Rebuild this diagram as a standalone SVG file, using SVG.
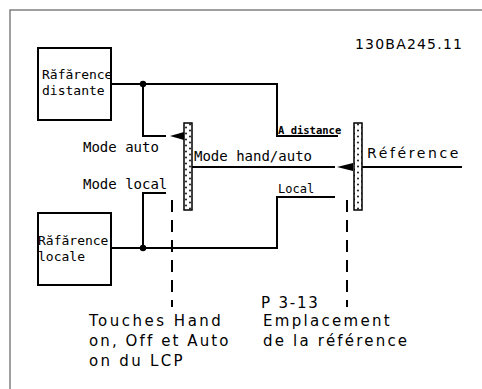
<svg xmlns="http://www.w3.org/2000/svg" width="482" height="389" viewBox="0 0 482 389">
<style>
.ln{fill:none;stroke:#000;stroke-width:2}
.box{fill:#fff;stroke:#000;stroke-width:2}
.dash{fill:none;stroke:#000;stroke-width:2;stroke-dasharray:12 8}
.mono{font-family:"DejaVu Sans Mono","Liberation Mono",monospace;fill:#000}
.sans{font-family:"DejaVu Sans","Noto Sans",sans-serif;fill:#000}
.bar{fill:url(#stip);stroke:#000;stroke-width:1.5}
</style>
<defs>
<pattern id="stip" width="8" height="6" patternUnits="userSpaceOnUse">
<rect width="8" height="6" fill="#fff"/>
<circle cx="2" cy="1.5" r="0.9" fill="#000"/>
<circle cx="6" cy="4.5" r="0.9" fill="#000"/>
</pattern>
</defs>
<rect width="482" height="389" fill="#fff"/>
<path d="M10,389 V10 H482" fill="none" stroke="#808080" stroke-width="1.5"/>
<text class="sans" x="355" y="49" font-size="14" letter-spacing="1.2">130BA245.11</text>
<g id="connectors">
<path class="ln" d="M111,84 H277 V136 H338"/>
<path class="ln" d="M143,84 V136 H166"/>
<path class="ln" d="M192,167 H335"/>
<path class="ln" d="M362,167 H462"/>
<path class="ln" d="M111,248 H277 V197 H335"/>
<path class="ln" d="M143,248 V193 H166"/>
<circle cx="143" cy="84" r="3.2" fill="#000"/>
<circle cx="143" cy="248" r="3.2" fill="#000"/>
<polygon points="170,136 184,132 184,140" fill="#000"/>
<polygon points="337,167 353,163 353,171" fill="#000"/>
<path class="dash" d="M172,200 V307"/>
<path class="dash" d="M347,200 V307"/>
</g>
<g id="ref-distante">
<rect class="box" x="38" y="48" width="73" height="72"/>
<text class="mono" x="42" y="79" font-size="13">Răfărence</text>
<text class="mono" x="42" y="95" font-size="13">distante</text>
</g>
<g id="ref-locale">
<rect class="box" x="38" y="213" width="73" height="72"/>
<text class="mono" x="38" y="245" font-size="13">Răfărence</text>
<text class="mono" x="38" y="261" font-size="13">locale</text>
</g>
<g id="switch-lcp">
<rect class="bar" x="184" y="123" width="8" height="87"/>
</g>
<g id="switch-ref">
<rect class="bar" x="354" y="123" width="8" height="87"/>
</g>
<g id="labels">
<text class="mono" x="83" y="152" font-size="14">Mode auto</text>
<text class="mono" x="83" y="189" font-size="14">Mode local</text>
<text class="mono" x="194" y="161" font-size="14">Mode hand/auto</text>
<text class="mono" x="278" y="134" font-size="10.5" font-weight="bold">A distance</text>
<text class="mono" x="278" y="193" font-size="12">Local</text>
<text class="sans" x="367" y="158" font-size="14" letter-spacing="2.6">Référence</text>
<text class="sans" x="89" y="326" font-size="15" letter-spacing="2.5">Touches Hand</text>
<text class="sans" x="89" y="346" font-size="15" letter-spacing="2.1">on, Off et Auto</text>
<text class="sans" x="89" y="366" font-size="15" letter-spacing="2.3">on du LCP</text>
<text class="sans" x="261" y="308" font-size="15" letter-spacing="1.8">P 3-13</text>
<text class="sans" x="263" y="326" font-size="15" letter-spacing="2.3">Emplacement</text>
<text class="sans" x="263" y="346" font-size="15" letter-spacing="2.2">de la référence</text>
</g>
</svg>
